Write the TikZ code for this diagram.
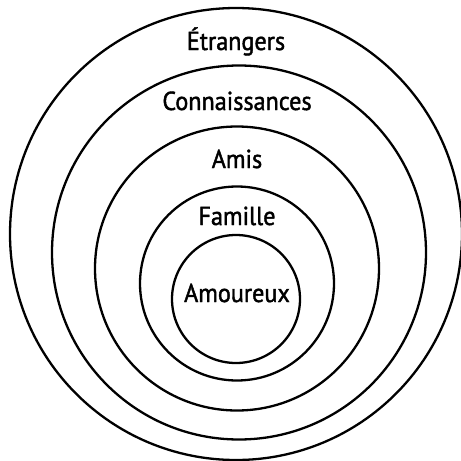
\documentclass[tikz,border=0pt]{standalone}
\usepackage{fontspec}
\newfontfamily\ringfont[FakeBold=1.6,FakeStretch=0.93]{PT Sans}
\usepackage{tikz}

\begin{document}
\begin{tikzpicture}[
  x=1pt,y=-1pt,
  ring/.style={draw,circle,line width=2.3pt,inner sep=0pt},
  lbl/.style={anchor=base,inner sep=0pt,font=\ringfont\fontsize{26}{28}\selectfont}
]
\useasboundingbox (0,0) rectangle (461,461);
% rings, outermost first
\node[ring,minimum size=452pt] (etr) at (236,234) {};
\node[ring,minimum size=374pt] (con) at (239,252.5) {};
\node[ring,minimum size=284pt] (ami) at (237,268.5) {};
\node[ring,minimum size=194pt] (fam) at (237,283.5) {};
\node[ring,minimum size=128pt] (amo) at (236,299) {};

% labels
\node[lbl] (tetr) at (236,50) {Étrangers};
\node[lbl] (tcon) at (237,110) {Connaissances};
\node[lbl] (tami) at (237,168) {Amis};
\node[lbl] (tfam) at (237,225) {Famille};
\node[lbl] (tamo) at (237,302) {Amoureux};
\end{tikzpicture}
\end{document}
